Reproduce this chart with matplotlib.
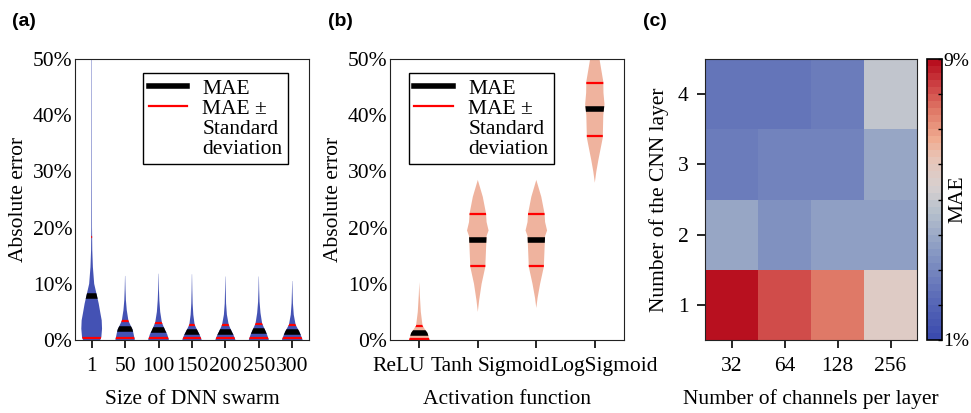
import numpy as np
import matplotlib
matplotlib.use('Agg')
import matplotlib.pyplot as plt
from matplotlib.lines import Line2D
from matplotlib.colors import LinearSegmentedColormap
from matplotlib.ticker import PercentFormatter, FuncFormatter
from matplotlib.transforms import ScaledTranslation

plt.rcParams['font.family'] = ['Liberation Serif', 'DejaVu Serif']
plt.rcParams['font.size'] = 15.5

# ---- (a) size of DNN swarm ----
swarm_labels = ['1', '50', '100', '150', '200', '250', '300']
swarm_mae = [0.078, 0.019, 0.017, 0.015, 0.015, 0.016, 0.015]
swarm_upper = [0.183, 0.034, 0.031, 0.027, 0.027, 0.029, 0.027]
swarm_lower = [0.003, 0.003, 0.003, 0.003, 0.003, 0.003, 0.003]
# violin outlines: error level -> half width
swarm_y = [
    [0, 0.006, 0.02, 0.035, 0.048, 0.065, 0.078, 0.10, 0.13, 0.16, 0.20, 0.30, 0.50],
    [0, 0.012, 0.019, 0.034, 0.053, 0.071, 0.09, 0.114],
    [0, 0.010, 0.017, 0.031, 0.050, 0.070, 0.09, 0.118],
    [0, 0.008, 0.015, 0.027, 0.045, 0.065, 0.09, 0.117],
    [0, 0.008, 0.015, 0.027, 0.045, 0.065, 0.09, 0.113],
    [0, 0.009, 0.016, 0.029, 0.048, 0.068, 0.09, 0.113],
    [0, 0.008, 0.015, 0.027, 0.045, 0.065, 0.085, 0.105],
]
swarm_hw = [
    [0.26, 0.29, 0.31, 0.30, 0.26, 0.21, 0.16, 0.075, 0.036, 0.018, 0.010, 0.0075, 0.006],
    [0.29, 0.25, 0.22, 0.10, 0.05, 0.024, 0.012, 0.003],
    [0.31, 0.26, 0.20, 0.10, 0.05, 0.025, 0.012, 0.003],
    [0.29, 0.24, 0.18, 0.08, 0.04, 0.020, 0.010, 0.003],
    [0.30, 0.25, 0.19, 0.10, 0.045, 0.020, 0.010, 0.003],
    [0.30, 0.25, 0.20, 0.10, 0.05, 0.022, 0.010, 0.003],
    [0.31, 0.26, 0.21, 0.10, 0.045, 0.020, 0.010, 0.003],
]

# ---- (b) activation function ----
act_labels = ['ReLU', 'Tanh', 'Sigmoid', 'LogSigmoid']
act_mae = [0.0125, 0.178, 0.178, 0.411]
act_upper = [0.025, 0.225, 0.225, 0.457]
act_lower = [0.002, 0.132, 0.132, 0.363]
act_y = [
    [0, 0.0125, 0.025, 0.05, 0.08, 0.103],
    [0.05, 0.07, 0.10, 0.13, 0.16, 0.185, 0.195, 0.21, 0.225, 0.255, 0.285],
    [0.057, 0.075, 0.10, 0.13, 0.16, 0.185, 0.195, 0.21, 0.225, 0.255, 0.285],
    [0.28, 0.30, 0.32, 0.36, 0.40, 0.42, 0.44, 0.46, 0.50, 0.52],
]
act_hw = [
    [0.175, 0.14, 0.056, 0.026, 0.009, 0.0],
    [0, 0.022, 0.065, 0.128, 0.14, 0.15, 0.184, 0.15, 0.141, 0.085, 0],
    [0, 0.022, 0.065, 0.128, 0.14, 0.15, 0.184, 0.15, 0.141, 0.085, 0],
    [0, 0.026, 0.06, 0.136, 0.145, 0.165, 0.148, 0.145, 0.08, 0.034],
]

# ---- (c) CNN grid, MAE in % ----
channels = ['32', '64', '128', '256']
layers = ['1', '2', '3', '4']
mae_grid = [
    [9.0, 8.0, 7.4, 5.6],
    [3.9, 3.3, 3.6, 3.6],
    [2.6, 2.85, 2.85, 3.9],
    [2.45, 2.4, 2.7, 4.8],
]

cmap = LinearSegmentedColormap.from_list('mae', [
    (0.0, '#3b4bae'), (0.15, '#5d6db8'), (0.3, '#8596c2'), (0.45, '#b4bfcc'),
    (0.55, '#d8d0cf'), (0.65, '#e8c4b6'), (0.72, '#f0ab90'), (0.82, '#e07a68'),
    (0.92, '#cc3f42'), (1.0, '#b8101f')], N=40)

fig = plt.figure(figsize=(9.71, 4.13), dpi=100)
ax_a = fig.add_axes([0.0772, 0.1768, 0.241, 0.680])
ax_b = fig.add_axes([0.4017, 0.1768, 0.241, 0.680])
ax_c = fig.add_axes([0.7261, 0.1768, 0.2183, 0.680])
cax = fig.add_axes([0.9547, 0.1768, 0.0154, 0.680])


def draw_violins(ax, ys, hws, mae, upper, lower, color):
    pos = np.arange(len(ys))
    stats = []
    for y, hw, m in zip(ys, hws, mae):
        stats.append(dict(coords=np.array(y), vals=np.array(hw), mean=m, median=m,
                          min=min(y), max=max(y)))
    widths = [2 * max(hw) for hw in hws]
    parts = ax.violin(stats, positions=pos, widths=widths, showextrema=False)
    for i, body in enumerate(parts['bodies']):
        body.set_facecolor(color)
        body.set_edgecolor('none')
        body.set_alpha(1)
        clip = body.get_paths()[0]
        for val, c, lw in [(lower[i], 'red', 1.6), (upper[i], 'red', 1.6), (mae[i], 'black', 4)]:
            ln = ax.hlines(val, pos[i] - 0.5, pos[i] + 0.5, colors=c, linewidth=lw)
            ln.set_clip_path(clip, ax.transData)
    return pos


def style_violin_axes(ax, labels, xlabel):
    ax.set_ylim(0, 0.5)
    ax.set_xlim(-0.5, len(labels) - 0.5)
    ax.set_xticks(np.arange(len(labels)))
    ax.set_xticklabels(labels)
    ax.yaxis.set_major_formatter(PercentFormatter(1.0, decimals=0))
    ax.set_yticks([0, 0.1, 0.2, 0.3, 0.4, 0.5])
    ax.tick_params(axis='y', length=0, pad=2)
    ax.tick_params(axis='x', length=6, width=1.2, pad=6)
    ax.set_xlabel(xlabel, labelpad=10)
    ax.set_ylabel('Absolute error', labelpad=3)
    for s in ax.spines.values():
        s.set_color('#222222')
    handles = [Line2D([], [], color='black', lw=4), Line2D([], [], color='red', lw=1.6),
               Line2D([], [], color='none'), Line2D([], [], color='none')]
    return handles


def add_legend(ax, handles, **kw):
    leg = ax.legend(handles, ['MAE', 'MAE \u00b1', 'Standard', 'deviation'],
                    fancybox=False, edgecolor='black', framealpha=1,
                    handlelength=1.8, handletextpad=0.7, borderpad=0.25,
                    labelspacing=0.0, borderaxespad=0, **kw)
    leg.get_frame().set_linewidth(1.0)


draw_violins(ax_a, swarm_y, swarm_hw, swarm_mae, swarm_upper, swarm_lower, '#4452b4')
h = style_violin_axes(ax_a, swarm_labels, 'Size of DNN swarm')
add_legend(ax_a, h, loc='upper right', bbox_to_anchor=(0.91, 0.95))

draw_violins(ax_b, act_y, act_hw, act_mae, act_upper, act_lower, '#efb39e')
h = style_violin_axes(ax_b, act_labels, 'Activation function')
add_legend(ax_b, h, loc='upper left', bbox_to_anchor=(0.081, 0.95))
# the activation names sit a bit off their ticks in the original
for lab, dx in zip(ax_b.get_xticklabels(), [-0.21, -0.26, -0.22, 0.09]):
    lab.set_transform(lab.get_transform() + ScaledTranslation(dx, 0, fig.dpi_scale_trans))

# heatmap
im = ax_c.imshow(np.array(mae_grid), cmap=cmap, vmin=1, vmax=9, origin='lower', aspect='auto')
ax_c.set_xticks(np.arange(len(channels)))
ax_c.set_xticklabels(channels)
ax_c.set_yticks(np.arange(len(layers)))
ax_c.set_yticklabels(layers)
ax_c.tick_params(length=6, width=1.2, pad=6)
ax_c.set_xlabel('Number of channels per layer', labelpad=10)
ax_c.set_ylabel('Number of the CNN layer', labelpad=6)
for s in ax_c.spines.values():
    s.set_color('#222222')

cb = fig.colorbar(im, cax=cax)
cb.set_ticks(np.arange(1, 10))
cb.ax.yaxis.set_major_formatter(FuncFormatter(lambda v, p: '%d%%' % v if v in (1, 9) else ''))
cb.ax.tick_params(direction='in', length=3, width=1, pad=1, labelsize=14)
cb.outline.set_linewidth(1.2)
cb.ax.text(2.1, 0.5, 'MAE', transform=cb.ax.transAxes, rotation=90, ha='center', va='center')

for x, lab in [(0.012, '(a)'), (0.338, '(b)'), (0.662, '(c)')]:
    fig.text(x, 0.949, lab, family='Liberation Sans', weight='bold', fontsize=14, va='center')

fig.savefig('out.png', dpi=100)
